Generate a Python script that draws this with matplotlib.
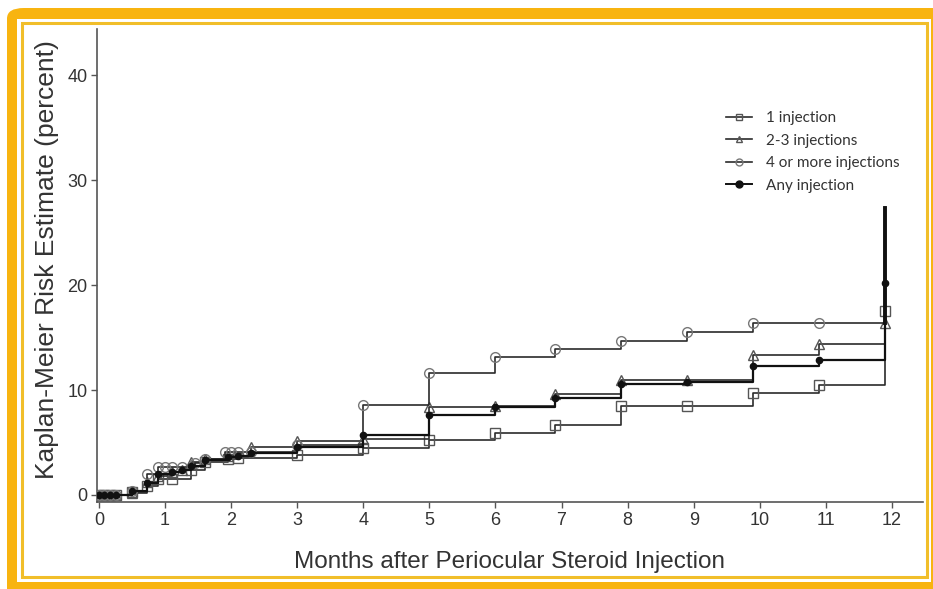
import matplotlib.pyplot as plt
from matplotlib.patches import FancyBboxPatch, Rectangle
from matplotlib.lines import Line2D

W, H = 933, 589

# months after injection / risk estimate (percent)
one_t = [0, 0.08, 0.17, 0.25, 0.5, 0.72, 0.9, 1.1, 1.4, 1.6, 1.95, 2.1, 3.0, 4.0, 5.0, 6.0, 6.9, 7.9, 8.9, 9.9, 10.9, 11.9]
one_v = [0, 0, 0, 0, 0.3, 0.9, 1.5, 1.5, 2.4, 3.1, 3.4, 3.5, 3.8, 4.5, 5.2, 5.9, 6.7, 8.5, 8.5, 9.7, 10.5, 17.5]

two_t = [0, 0.08, 0.17, 0.25, 0.5, 0.72, 0.9, 1.1, 1.25, 1.4, 1.6, 1.95, 2.3, 3.0, 4.0, 5.0, 6.0, 6.9, 7.9, 8.9, 9.9, 10.9, 11.9]
two_v = [0, 0, 0, 0, 0.2, 1.2, 1.8, 2.2, 2.4, 3.1, 3.4, 3.7, 4.6, 5.1, 5.3, 8.4, 8.5, 9.6, 11.0, 11.0, 13.3, 14.4, 16.4]

four_t = [0, 0.08, 0.17, 0.25, 0.5, 0.72, 0.9, 1.0, 1.1, 1.25, 1.45, 1.6, 1.9, 2.0, 2.1, 2.3, 3.0, 4.0, 5.0, 6.0, 6.9, 7.9, 8.9, 9.9, 10.9, 11.9]
four_v = [0, 0, 0, 0, 0.4, 2.0, 2.7, 2.7, 2.7, 2.7, 3.0, 3.4, 4.1, 4.1, 4.1, 4.1, 4.8, 8.6, 11.6, 13.1, 13.9, 14.7, 15.5, 16.4, 16.4, 16.4]

any_t = [0, 0.08, 0.17, 0.25, 0.5, 0.72, 0.9, 1.1, 1.25, 1.4, 1.6, 1.95, 2.1, 2.3, 3.0, 4.0, 5.0, 6.0, 6.9, 7.9, 8.9, 9.9, 10.9, 11.9, 11.9]
any_v = [0, 0, 0, 0, 0.4, 1.1, 2.0, 2.2, 2.4, 2.8, 3.3, 3.6, 3.7, 4.0, 4.6, 5.7, 7.6, 8.4, 9.2, 10.6, 10.8, 12.3, 12.9, 20.2, 27.3]

labels = ["1 injection", "2-3 injections", "4 or more injections", "Any injection"]
x_ticks = list(range(0, 13))
y_ticks = [0, 10, 20, 30, 40]


def fbox(x0, y0, x1, y1):
    # pixel box (top-left origin) -> figure fractions
    return x0 / W, 1 - y1 / H, (x1 - x0) / W, (y1 - y0) / H


fig = plt.figure(figsize=(W / 100, H / 100), dpi=100)
fig.patch.set_facecolor("white")

x, y, w, h = fbox(7, 8, 960, 620)
fig.patches.append(FancyBboxPatch((x, y), w, h, boxstyle="round,pad=0,rounding_size=0.018",
                                  transform=fig.transFigure, fc="#F8B410", ec="none", zorder=0))
x, y, w, h = fbox(17, 19, 931, 582)
fig.patches.append(Rectangle((x, y), w, h, transform=fig.transFigure, fc="white", ec="none", zorder=1))
x, y, w, h = fbox(22, 23, 927, 577)
fig.patches.append(Rectangle((x, y), w, h, transform=fig.transFigure, fc="none", ec="#F1BE2A", lw=2.2, zorder=2))

ax = fig.add_axes(fbox(97, 29, 923, 502))
ax.set_zorder(5)
ax.patch.set_alpha(0)

line_col = "#2b2b2b"
ax.step(one_t, one_v, where="post", color=line_col, lw=1.2, marker="s", ms=7,
        mfc="none", mec="#555555", mew=1.0, zorder=3)
ax.step(two_t, two_v, where="post", color=line_col, lw=1.2, marker="^", ms=7,
        mfc="none", mec="#555555", mew=1.0, zorder=3)
ax.step(four_t, four_v, where="post", color=line_col, lw=1.2, marker="o", ms=7,
        mfc="none", mec="#777777", mew=1.0, markevery=list(range(len(four_t) - 1)), zorder=3)
ax.step(any_t, any_v, where="post", color="#111111", lw=1.6, marker="o", ms=4.5,
        mfc="#111111", mec="#111111", markevery=list(range(len(any_t) - 1)), zorder=4)
# the last jump of "Any injection" is drawn heavier
ax.plot(any_t[-2:], [four_v[-1], any_v[-1]], color="#111111", lw=2.8, zorder=4)

ax.set_xlim(-0.03, 12.47)
ax.set_ylim(-0.67, 44.4)
ax.set_xticks(x_ticks)
ax.set_yticks(y_ticks)
for s in ["top", "right"]:
    ax.spines[s].set_visible(False)
for s in ["left", "bottom"]:
    ax.spines[s].set_color("#555555")
    ax.spines[s].set_linewidth(1.2)
ax.tick_params(direction="out", length=4, width=1, color="#555555",
               labelsize=13, labelcolor="#333333", pad=3)
for lab in ax.get_xticklabels() + ax.get_yticklabels():
    lab.set_family("Liberation Sans")

ax.set_xlabel("Months after Periocular Steroid Injection", family="Liberation Sans",
              fontsize=17.5, color="#333333", labelpad=16)
ax.set_ylabel("Kaplan-Meier Risk Estimate (percent)", family="Liberation Sans",
              fontsize=19, color="#333333", labelpad=6)
ax.yaxis.label.set_y(0.512)

handles = [
    Line2D([], [], color=line_col, lw=1.2, marker="s", ms=5, mfc="none", mec="#555555"),
    Line2D([], [], color=line_col, lw=1.2, marker="^", ms=5, mfc="none", mec="#555555"),
    Line2D([], [], color=line_col, lw=1.2, marker="o", ms=5, mfc="none", mec="#777777"),
    Line2D([], [], color="#111111", lw=1.4, marker="o", ms=5, mfc="#111111", mec="#111111"),
]
leg = ax.legend(handles, labels, loc="upper left", bbox_to_anchor=(0.745, 0.855),
                frameon=False, handlelength=1.7, handletextpad=0.9, labelspacing=0.55,
                prop={"family": "Lato", "size": 11})
for t in leg.get_texts():
    t.set_color("#333333")

fig.savefig("out.png", dpi=100)
